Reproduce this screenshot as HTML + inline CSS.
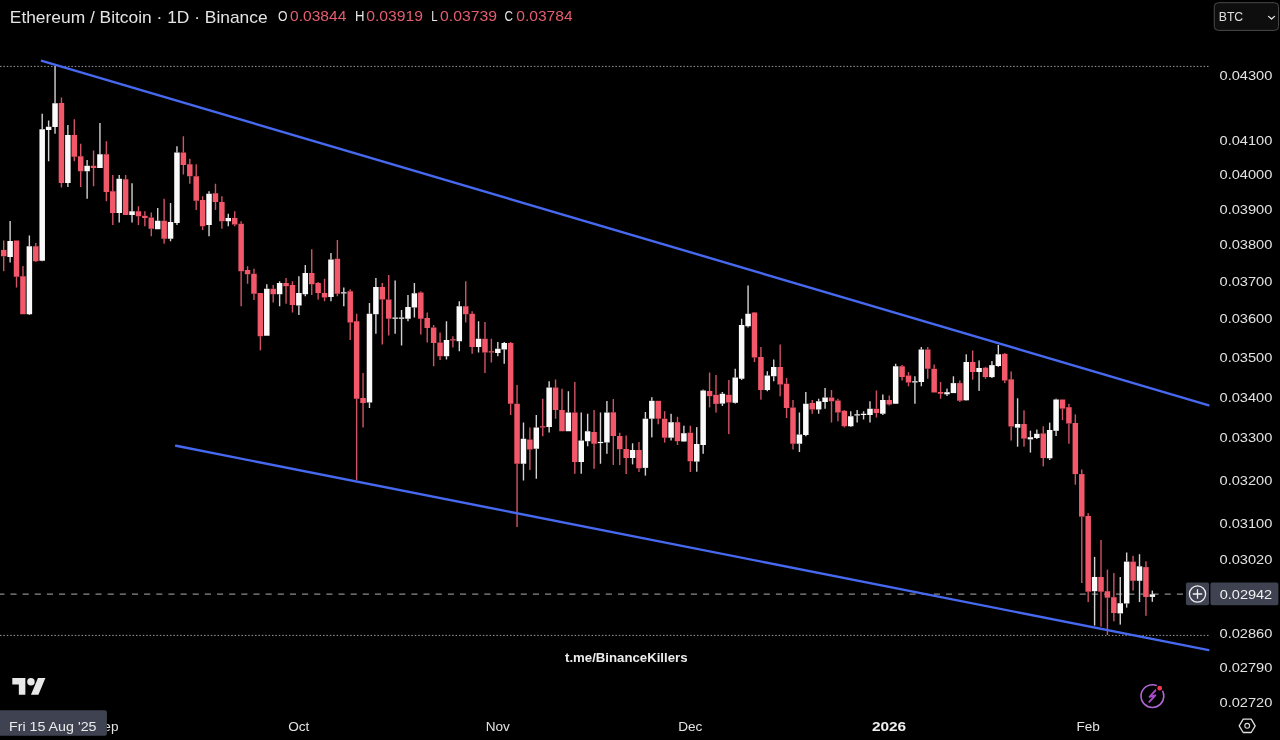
<!DOCTYPE html>
<html><head><meta charset="utf-8"><title>ETH/BTC</title>
<style>
html,body{margin:0;padding:0;background:#000;}
body{width:1280px;height:740px;overflow:hidden;position:relative;font-family:'Liberation Sans', Arial, sans-serif;}
svg{position:absolute;left:0;top:0;display:block;will-change:transform;}
svg text{font-family:'Liberation Sans', Arial, sans-serif;}
</style></head><body>
<svg width="1280" height="740" viewBox="0 0 1280 740">
<rect width="1280" height="740" fill="#000"/>
<defs><clipPath id="pane"><rect x="0" y="0" width="1209.5" height="705"/></clipPath></defs>
<g clip-path="url(#pane)">
<line x1="0" y1="66.4" x2="1209.5" y2="66.4" stroke="#9a9a9a" stroke-width="1" stroke-dasharray="1.5 1.9"/>
<line x1="0" y1="635.4" x2="1209.5" y2="635.4" stroke="#9a9a9a" stroke-width="1" stroke-dasharray="1.5 1.9"/>
<line x1="0" y1="594.1" x2="1185" y2="594.1" stroke="#8a8a8a" stroke-width="1.1" stroke-dasharray="6.1 6.05" stroke-dashoffset="1.7"/>
<rect x="3.00" y="240.50" width="1.4" height="9.50" fill="#d05366"/>
<rect x="3.00" y="256.25" width="1.4" height="15.00" fill="#d05366"/>
<rect x="0.95" y="250.00" width="5.5" height="6.25" fill="#f2576a"/>
<rect x="9.42" y="221.00" width="1.4" height="20.00" fill="#d2d2d2"/>
<rect x="9.42" y="257.00" width="1.4" height="5.50" fill="#d2d2d2"/>
<rect x="7.37" y="241.00" width="5.5" height="16.00" fill="#fafafa"/>
<rect x="15.83" y="276.75" width="1.4" height="10.75" fill="#d05366"/>
<rect x="13.78" y="240.50" width="5.5" height="36.25" fill="#f2576a"/>
<rect x="22.25" y="266.00" width="1.4" height="10.25" fill="#d05366"/>
<rect x="20.20" y="276.25" width="5.5" height="38.00" fill="#f2576a"/>
<rect x="28.67" y="235.50" width="1.4" height="10.75" fill="#d2d2d2"/>
<rect x="28.67" y="314.25" width="1.4" height="0.75" fill="#d2d2d2"/>
<rect x="26.62" y="246.25" width="5.5" height="68.00" fill="#fafafa"/>
<rect x="35.09" y="243.00" width="1.4" height="3.25" fill="#d05366"/>
<rect x="35.09" y="261.25" width="1.4" height="0.75" fill="#d05366"/>
<rect x="33.04" y="246.25" width="5.5" height="15.00" fill="#f2576a"/>
<rect x="41.50" y="113.75" width="1.4" height="15.50" fill="#d2d2d2"/>
<rect x="41.50" y="260.75" width="1.4" height="0.50" fill="#d2d2d2"/>
<rect x="39.45" y="129.25" width="5.5" height="131.50" fill="#fafafa"/>
<rect x="47.92" y="120.50" width="1.4" height="6.25" fill="#d2d2d2"/>
<rect x="47.92" y="130.00" width="1.4" height="31.25" fill="#d2d2d2"/>
<rect x="45.87" y="126.75" width="5.5" height="3.25" fill="#fafafa"/>
<rect x="54.34" y="66.25" width="1.4" height="37.00" fill="#d2d2d2"/>
<rect x="54.34" y="127.00" width="1.4" height="6.75" fill="#d2d2d2"/>
<rect x="52.29" y="103.25" width="5.5" height="23.75" fill="#fafafa"/>
<rect x="60.75" y="97.50" width="1.4" height="5.50" fill="#d05366"/>
<rect x="60.75" y="183.00" width="1.4" height="4.50" fill="#d05366"/>
<rect x="58.70" y="103.00" width="5.5" height="80.00" fill="#f2576a"/>
<rect x="67.17" y="125.00" width="1.4" height="10.00" fill="#d2d2d2"/>
<rect x="67.17" y="183.00" width="1.4" height="4.00" fill="#d2d2d2"/>
<rect x="65.12" y="135.00" width="5.5" height="48.00" fill="#fafafa"/>
<rect x="73.59" y="119.25" width="1.4" height="15.75" fill="#d05366"/>
<rect x="73.59" y="156.75" width="1.4" height="4.50" fill="#d05366"/>
<rect x="71.54" y="135.00" width="5.5" height="21.75" fill="#f2576a"/>
<rect x="80.00" y="143.75" width="1.4" height="12.50" fill="#d05366"/>
<rect x="80.00" y="171.25" width="1.4" height="15.75" fill="#d05366"/>
<rect x="77.95" y="156.25" width="5.5" height="15.00" fill="#f2576a"/>
<rect x="86.42" y="160.00" width="1.4" height="5.75" fill="#d2d2d2"/>
<rect x="86.42" y="171.25" width="1.4" height="27.50" fill="#d2d2d2"/>
<rect x="84.37" y="165.75" width="5.5" height="5.50" fill="#fafafa"/>
<rect x="92.84" y="150.50" width="1.4" height="15.25" fill="#d05366"/>
<rect x="92.84" y="168.00" width="1.4" height="18.25" fill="#d05366"/>
<rect x="90.79" y="165.75" width="5.5" height="2.25" fill="#f2576a"/>
<rect x="99.25" y="123.00" width="1.4" height="31.25" fill="#d2d2d2"/>
<rect x="97.20" y="154.25" width="5.5" height="13.75" fill="#fafafa"/>
<rect x="105.67" y="141.25" width="1.4" height="13.00" fill="#d05366"/>
<rect x="105.67" y="192.00" width="1.4" height="9.25" fill="#d05366"/>
<rect x="103.62" y="154.25" width="5.5" height="37.75" fill="#f2576a"/>
<rect x="112.09" y="175.00" width="1.4" height="16.25" fill="#d05366"/>
<rect x="112.09" y="213.00" width="1.4" height="12.00" fill="#d05366"/>
<rect x="110.04" y="191.25" width="5.5" height="21.75" fill="#f2576a"/>
<rect x="118.51" y="175.00" width="1.4" height="3.75" fill="#d2d2d2"/>
<rect x="118.51" y="213.00" width="1.4" height="9.50" fill="#d2d2d2"/>
<rect x="116.46" y="178.75" width="5.5" height="34.25" fill="#fafafa"/>
<rect x="124.92" y="175.00" width="1.4" height="4.25" fill="#d05366"/>
<rect x="122.87" y="179.25" width="5.5" height="35.75" fill="#f2576a"/>
<rect x="131.34" y="183.25" width="1.4" height="28.00" fill="#d2d2d2"/>
<rect x="131.34" y="215.00" width="1.4" height="7.50" fill="#d2d2d2"/>
<rect x="129.29" y="211.25" width="5.5" height="3.75" fill="#fafafa"/>
<rect x="137.76" y="206.25" width="1.4" height="5.00" fill="#d05366"/>
<rect x="137.76" y="216.25" width="1.4" height="8.75" fill="#d05366"/>
<rect x="135.71" y="211.25" width="5.5" height="5.00" fill="#f2576a"/>
<rect x="144.17" y="211.25" width="1.4" height="4.50" fill="#d05366"/>
<rect x="144.17" y="218.00" width="1.4" height="8.25" fill="#d05366"/>
<rect x="142.12" y="215.75" width="5.5" height="2.25" fill="#f2576a"/>
<rect x="150.59" y="212.50" width="1.4" height="5.00" fill="#d05366"/>
<rect x="150.59" y="228.75" width="1.4" height="7.50" fill="#d05366"/>
<rect x="148.54" y="217.50" width="5.5" height="11.25" fill="#f2576a"/>
<rect x="157.01" y="208.00" width="1.4" height="12.75" fill="#d2d2d2"/>
<rect x="154.96" y="220.75" width="5.5" height="8.50" fill="#fafafa"/>
<rect x="163.42" y="198.75" width="1.4" height="22.00" fill="#d05366"/>
<rect x="163.42" y="238.75" width="1.4" height="5.00" fill="#d05366"/>
<rect x="161.37" y="220.75" width="5.5" height="18.00" fill="#f2576a"/>
<rect x="169.84" y="203.00" width="1.4" height="19.00" fill="#d2d2d2"/>
<rect x="169.84" y="238.75" width="1.4" height="2.50" fill="#d2d2d2"/>
<rect x="167.79" y="222.00" width="5.5" height="16.75" fill="#fafafa"/>
<rect x="176.26" y="146.25" width="1.4" height="6.25" fill="#d2d2d2"/>
<rect x="176.26" y="223.00" width="1.4" height="2.00" fill="#d2d2d2"/>
<rect x="174.21" y="152.50" width="5.5" height="70.50" fill="#fafafa"/>
<rect x="182.68" y="136.25" width="1.4" height="16.25" fill="#d05366"/>
<rect x="182.68" y="165.00" width="1.4" height="9.50" fill="#d05366"/>
<rect x="180.63" y="152.50" width="5.5" height="12.50" fill="#f2576a"/>
<rect x="189.09" y="158.75" width="1.4" height="5.50" fill="#d05366"/>
<rect x="189.09" y="176.25" width="1.4" height="7.50" fill="#d05366"/>
<rect x="187.04" y="164.25" width="5.5" height="12.00" fill="#f2576a"/>
<rect x="195.51" y="164.25" width="1.4" height="12.00" fill="#d05366"/>
<rect x="195.51" y="200.75" width="1.4" height="9.25" fill="#d05366"/>
<rect x="193.46" y="176.25" width="5.5" height="24.50" fill="#f2576a"/>
<rect x="201.93" y="196.25" width="1.4" height="3.75" fill="#d05366"/>
<rect x="201.93" y="226.25" width="1.4" height="3.75" fill="#d05366"/>
<rect x="199.88" y="200.00" width="5.5" height="26.25" fill="#f2576a"/>
<rect x="208.34" y="191.25" width="1.4" height="2.50" fill="#d2d2d2"/>
<rect x="208.34" y="225.00" width="1.4" height="11.25" fill="#d2d2d2"/>
<rect x="206.29" y="193.75" width="5.5" height="31.25" fill="#fafafa"/>
<rect x="214.76" y="183.75" width="1.4" height="9.50" fill="#d05366"/>
<rect x="214.76" y="202.00" width="1.4" height="8.00" fill="#d05366"/>
<rect x="212.71" y="193.25" width="5.5" height="8.75" fill="#f2576a"/>
<rect x="221.18" y="196.25" width="1.4" height="5.75" fill="#d05366"/>
<rect x="221.18" y="221.25" width="1.4" height="7.50" fill="#d05366"/>
<rect x="219.13" y="202.00" width="5.5" height="19.25" fill="#f2576a"/>
<rect x="227.59" y="213.75" width="1.4" height="4.25" fill="#d2d2d2"/>
<rect x="227.59" y="221.25" width="1.4" height="5.00" fill="#d2d2d2"/>
<rect x="225.54" y="218.00" width="5.5" height="3.25" fill="#fafafa"/>
<rect x="234.01" y="211.25" width="1.4" height="6.75" fill="#d05366"/>
<rect x="234.01" y="224.50" width="1.4" height="1.75" fill="#d05366"/>
<rect x="231.96" y="218.00" width="5.5" height="6.50" fill="#f2576a"/>
<rect x="240.43" y="221.25" width="1.4" height="2.50" fill="#d05366"/>
<rect x="240.43" y="271.25" width="1.4" height="35.00" fill="#d05366"/>
<rect x="238.38" y="223.75" width="5.5" height="47.50" fill="#f2576a"/>
<rect x="246.85" y="266.25" width="1.4" height="3.75" fill="#d05366"/>
<rect x="246.85" y="274.25" width="1.4" height="9.50" fill="#d05366"/>
<rect x="244.80" y="270.00" width="5.5" height="4.25" fill="#f2576a"/>
<rect x="253.26" y="268.75" width="1.4" height="5.00" fill="#d05366"/>
<rect x="253.26" y="293.75" width="1.4" height="6.25" fill="#d05366"/>
<rect x="251.21" y="273.75" width="5.5" height="20.00" fill="#f2576a"/>
<rect x="259.68" y="336.25" width="1.4" height="14.15" fill="#d05366"/>
<rect x="257.63" y="293.00" width="5.5" height="43.25" fill="#f2576a"/>
<rect x="266.10" y="284.25" width="1.4" height="4.50" fill="#d2d2d2"/>
<rect x="264.05" y="288.75" width="5.5" height="47.00" fill="#fafafa"/>
<rect x="272.51" y="285.00" width="1.4" height="3.75" fill="#d05366"/>
<rect x="272.51" y="294.25" width="1.4" height="8.25" fill="#d05366"/>
<rect x="270.46" y="288.75" width="5.5" height="5.50" fill="#f2576a"/>
<rect x="278.93" y="281.25" width="1.4" height="1.75" fill="#d2d2d2"/>
<rect x="278.93" y="294.25" width="1.4" height="12.00" fill="#d2d2d2"/>
<rect x="276.88" y="283.00" width="5.5" height="11.25" fill="#fafafa"/>
<rect x="285.35" y="278.00" width="1.4" height="5.00" fill="#d05366"/>
<rect x="285.35" y="286.25" width="1.4" height="17.50" fill="#d05366"/>
<rect x="283.30" y="283.00" width="5.5" height="3.25" fill="#f2576a"/>
<rect x="291.76" y="281.25" width="1.4" height="3.75" fill="#d05366"/>
<rect x="291.76" y="305.00" width="1.4" height="7.50" fill="#d05366"/>
<rect x="289.71" y="285.00" width="5.5" height="20.00" fill="#f2576a"/>
<rect x="298.18" y="276.25" width="1.4" height="16.75" fill="#d2d2d2"/>
<rect x="298.18" y="305.50" width="1.4" height="9.50" fill="#d2d2d2"/>
<rect x="296.13" y="293.00" width="5.5" height="12.50" fill="#fafafa"/>
<rect x="304.60" y="265.00" width="1.4" height="8.00" fill="#d2d2d2"/>
<rect x="304.60" y="294.25" width="1.4" height="2.00" fill="#d2d2d2"/>
<rect x="302.55" y="273.00" width="5.5" height="21.25" fill="#fafafa"/>
<rect x="311.02" y="249.25" width="1.4" height="23.75" fill="#d05366"/>
<rect x="311.02" y="284.25" width="1.4" height="10.75" fill="#d05366"/>
<rect x="308.97" y="273.00" width="5.5" height="11.25" fill="#f2576a"/>
<rect x="317.43" y="282.00" width="1.4" height="1.00" fill="#d05366"/>
<rect x="317.43" y="293.00" width="1.4" height="6.60" fill="#d05366"/>
<rect x="315.38" y="283.00" width="5.5" height="10.00" fill="#f2576a"/>
<rect x="323.85" y="278.75" width="1.4" height="14.25" fill="#d05366"/>
<rect x="323.85" y="297.50" width="1.4" height="3.75" fill="#d05366"/>
<rect x="321.80" y="293.00" width="5.5" height="4.50" fill="#f2576a"/>
<rect x="330.27" y="253.00" width="1.4" height="6.50" fill="#d2d2d2"/>
<rect x="330.27" y="297.00" width="1.4" height="4.25" fill="#d2d2d2"/>
<rect x="328.22" y="259.50" width="5.5" height="37.50" fill="#fafafa"/>
<rect x="336.68" y="240.00" width="1.4" height="18.75" fill="#d05366"/>
<rect x="336.68" y="293.75" width="1.4" height="2.50" fill="#d05366"/>
<rect x="334.63" y="258.75" width="5.5" height="35.00" fill="#f2576a"/>
<rect x="343.10" y="287.50" width="1.4" height="4.77" fill="#d2d2d2"/>
<rect x="343.10" y="293.48" width="1.4" height="12.77" fill="#d2d2d2"/>
<rect x="341.05" y="292.27" width="5.5" height="1.20" fill="#fafafa"/>
<rect x="349.52" y="289.25" width="1.4" height="2.00" fill="#d05366"/>
<rect x="349.52" y="322.50" width="1.4" height="17.50" fill="#d05366"/>
<rect x="347.47" y="291.25" width="5.5" height="31.25" fill="#f2576a"/>
<rect x="355.94" y="313.75" width="1.4" height="7.50" fill="#d05366"/>
<rect x="355.94" y="398.75" width="1.4" height="81.25" fill="#d05366"/>
<rect x="353.88" y="321.25" width="5.5" height="77.50" fill="#f2576a"/>
<rect x="362.35" y="373.00" width="1.4" height="25.00" fill="#d05366"/>
<rect x="362.35" y="403.00" width="1.4" height="24.50" fill="#d05366"/>
<rect x="360.30" y="398.00" width="5.5" height="5.00" fill="#f2576a"/>
<rect x="368.77" y="303.00" width="1.4" height="10.75" fill="#d2d2d2"/>
<rect x="368.77" y="402.50" width="1.4" height="5.50" fill="#d2d2d2"/>
<rect x="366.72" y="313.75" width="5.5" height="88.75" fill="#fafafa"/>
<rect x="375.19" y="278.00" width="1.4" height="9.00" fill="#d2d2d2"/>
<rect x="375.19" y="314.25" width="1.4" height="19.50" fill="#d2d2d2"/>
<rect x="373.14" y="287.00" width="5.5" height="27.25" fill="#fafafa"/>
<rect x="381.60" y="283.00" width="1.4" height="4.00" fill="#d05366"/>
<rect x="381.60" y="299.50" width="1.4" height="45.00" fill="#d05366"/>
<rect x="379.55" y="287.00" width="5.5" height="12.50" fill="#f2576a"/>
<rect x="388.02" y="275.00" width="1.4" height="24.50" fill="#d05366"/>
<rect x="388.02" y="318.75" width="1.4" height="16.75" fill="#d05366"/>
<rect x="385.97" y="299.50" width="5.5" height="19.25" fill="#f2576a"/>
<rect x="394.44" y="280.50" width="1.4" height="37.00" fill="#d2d2d2"/>
<rect x="394.44" y="318.75" width="1.4" height="15.00" fill="#d2d2d2"/>
<rect x="392.39" y="317.50" width="5.5" height="1.25" fill="#fafafa"/>
<rect x="400.85" y="310.00" width="1.4" height="7.50" fill="#d2d2d2"/>
<rect x="400.85" y="318.75" width="1.4" height="26.75" fill="#d2d2d2"/>
<rect x="398.80" y="317.50" width="5.5" height="1.25" fill="#fafafa"/>
<rect x="407.27" y="295.00" width="1.4" height="12.00" fill="#d2d2d2"/>
<rect x="407.27" y="318.75" width="1.4" height="2.50" fill="#d2d2d2"/>
<rect x="405.22" y="307.00" width="5.5" height="11.75" fill="#fafafa"/>
<rect x="413.69" y="283.00" width="1.4" height="10.25" fill="#d2d2d2"/>
<rect x="413.69" y="307.50" width="1.4" height="10.00" fill="#d2d2d2"/>
<rect x="411.64" y="293.25" width="5.5" height="14.25" fill="#fafafa"/>
<rect x="420.10" y="291.25" width="1.4" height="1.25" fill="#d05366"/>
<rect x="420.10" y="318.75" width="1.4" height="15.75" fill="#d05366"/>
<rect x="418.05" y="292.50" width="5.5" height="26.25" fill="#f2576a"/>
<rect x="426.52" y="312.50" width="1.4" height="5.50" fill="#d05366"/>
<rect x="426.52" y="328.00" width="1.4" height="14.50" fill="#d05366"/>
<rect x="424.47" y="318.00" width="5.5" height="10.00" fill="#f2576a"/>
<rect x="432.94" y="325.00" width="1.4" height="2.50" fill="#d05366"/>
<rect x="432.94" y="343.00" width="1.4" height="23.25" fill="#d05366"/>
<rect x="430.89" y="327.50" width="5.5" height="15.50" fill="#f2576a"/>
<rect x="439.36" y="332.50" width="1.4" height="10.00" fill="#d05366"/>
<rect x="439.36" y="356.25" width="1.4" height="3.75" fill="#d05366"/>
<rect x="437.31" y="342.50" width="5.5" height="13.75" fill="#f2576a"/>
<rect x="445.77" y="321.25" width="1.4" height="18.75" fill="#d2d2d2"/>
<rect x="445.77" y="356.25" width="1.4" height="3.25" fill="#d2d2d2"/>
<rect x="443.72" y="340.00" width="5.5" height="16.25" fill="#fafafa"/>
<rect x="452.19" y="336.25" width="1.4" height="3.00" fill="#d05366"/>
<rect x="452.19" y="340.50" width="1.4" height="7.00" fill="#d05366"/>
<rect x="450.14" y="339.25" width="5.5" height="1.25" fill="#f2576a"/>
<rect x="458.61" y="301.25" width="1.4" height="5.00" fill="#d2d2d2"/>
<rect x="458.61" y="341.25" width="1.4" height="10.00" fill="#d2d2d2"/>
<rect x="456.56" y="306.25" width="5.5" height="35.00" fill="#fafafa"/>
<rect x="465.02" y="281.25" width="1.4" height="25.00" fill="#d05366"/>
<rect x="465.02" y="314.25" width="1.4" height="8.25" fill="#d05366"/>
<rect x="462.97" y="306.25" width="5.5" height="8.00" fill="#f2576a"/>
<rect x="471.44" y="311.25" width="1.4" height="2.50" fill="#d05366"/>
<rect x="471.44" y="347.00" width="1.4" height="6.75" fill="#d05366"/>
<rect x="469.39" y="313.75" width="5.5" height="33.25" fill="#f2576a"/>
<rect x="477.86" y="321.25" width="1.4" height="17.50" fill="#d2d2d2"/>
<rect x="477.86" y="347.00" width="1.4" height="5.50" fill="#d2d2d2"/>
<rect x="475.81" y="338.75" width="5.5" height="8.25" fill="#fafafa"/>
<rect x="484.27" y="322.00" width="1.4" height="16.75" fill="#d05366"/>
<rect x="484.27" y="352.50" width="1.4" height="20.50" fill="#d05366"/>
<rect x="482.22" y="338.75" width="5.5" height="13.75" fill="#f2576a"/>
<rect x="490.69" y="338.75" width="1.4" height="12.50" fill="#d05366"/>
<rect x="490.69" y="352.50" width="1.4" height="10.00" fill="#d05366"/>
<rect x="488.64" y="351.25" width="5.5" height="1.25" fill="#f2576a"/>
<rect x="497.11" y="342.00" width="1.4" height="6.75" fill="#d2d2d2"/>
<rect x="497.11" y="353.00" width="1.4" height="3.25" fill="#d2d2d2"/>
<rect x="495.06" y="348.75" width="5.5" height="4.25" fill="#fafafa"/>
<rect x="503.53" y="342.00" width="1.4" height="1.00" fill="#d2d2d2"/>
<rect x="503.53" y="349.50" width="1.4" height="14.25" fill="#d2d2d2"/>
<rect x="501.48" y="343.00" width="5.5" height="6.50" fill="#fafafa"/>
<rect x="509.94" y="342.00" width="1.4" height="1.00" fill="#d05366"/>
<rect x="509.94" y="403.75" width="1.4" height="11.25" fill="#d05366"/>
<rect x="507.89" y="343.00" width="5.5" height="60.75" fill="#f2576a"/>
<rect x="516.36" y="385.00" width="1.4" height="18.75" fill="#d05366"/>
<rect x="516.36" y="463.75" width="1.4" height="63.25" fill="#d05366"/>
<rect x="514.31" y="403.75" width="5.5" height="60.00" fill="#f2576a"/>
<rect x="522.78" y="422.50" width="1.4" height="16.25" fill="#d2d2d2"/>
<rect x="522.78" y="463.75" width="1.4" height="16.75" fill="#d2d2d2"/>
<rect x="520.73" y="438.75" width="5.5" height="25.00" fill="#fafafa"/>
<rect x="529.19" y="427.50" width="1.4" height="12.00" fill="#d05366"/>
<rect x="529.19" y="449.50" width="1.4" height="20.50" fill="#d05366"/>
<rect x="527.14" y="439.50" width="5.5" height="10.00" fill="#f2576a"/>
<rect x="535.61" y="415.00" width="1.4" height="12.50" fill="#d2d2d2"/>
<rect x="535.61" y="448.75" width="1.4" height="30.00" fill="#d2d2d2"/>
<rect x="533.56" y="427.50" width="5.5" height="21.25" fill="#fafafa"/>
<rect x="542.03" y="398.75" width="1.4" height="27.50" fill="#d05366"/>
<rect x="542.03" y="427.50" width="1.4" height="8.75" fill="#d05366"/>
<rect x="539.98" y="426.25" width="5.5" height="1.25" fill="#f2576a"/>
<rect x="548.44" y="381.25" width="1.4" height="6.25" fill="#d2d2d2"/>
<rect x="548.44" y="427.00" width="1.4" height="5.50" fill="#d2d2d2"/>
<rect x="546.39" y="387.50" width="5.5" height="39.50" fill="#fafafa"/>
<rect x="554.86" y="379.50" width="1.4" height="8.00" fill="#d05366"/>
<rect x="554.86" y="410.00" width="1.4" height="8.75" fill="#d05366"/>
<rect x="552.81" y="387.50" width="5.5" height="22.50" fill="#f2576a"/>
<rect x="561.28" y="388.75" width="1.4" height="21.25" fill="#d05366"/>
<rect x="559.23" y="410.00" width="5.5" height="21.25" fill="#f2576a"/>
<rect x="567.70" y="391.25" width="1.4" height="21.25" fill="#d2d2d2"/>
<rect x="565.65" y="412.50" width="5.5" height="18.75" fill="#fafafa"/>
<rect x="574.11" y="382.00" width="1.4" height="30.50" fill="#d05366"/>
<rect x="574.11" y="462.00" width="1.4" height="11.75" fill="#d05366"/>
<rect x="572.06" y="412.50" width="5.5" height="49.50" fill="#f2576a"/>
<rect x="580.53" y="412.50" width="1.4" height="28.00" fill="#d2d2d2"/>
<rect x="580.53" y="462.00" width="1.4" height="11.75" fill="#d2d2d2"/>
<rect x="578.48" y="440.50" width="5.5" height="21.50" fill="#fafafa"/>
<rect x="586.95" y="413.75" width="1.4" height="17.50" fill="#d2d2d2"/>
<rect x="586.95" y="441.25" width="1.4" height="5.00" fill="#d2d2d2"/>
<rect x="584.90" y="431.25" width="5.5" height="10.00" fill="#fafafa"/>
<rect x="593.36" y="410.00" width="1.4" height="22.00" fill="#d05366"/>
<rect x="593.36" y="443.75" width="1.4" height="25.00" fill="#d05366"/>
<rect x="591.31" y="432.00" width="5.5" height="11.75" fill="#f2576a"/>
<rect x="599.78" y="412.50" width="1.4" height="29.40" fill="#d2d2d2"/>
<rect x="599.78" y="443.10" width="1.4" height="20.65" fill="#d2d2d2"/>
<rect x="597.73" y="441.90" width="5.5" height="1.20" fill="#fafafa"/>
<rect x="606.20" y="401.00" width="1.4" height="11.50" fill="#d2d2d2"/>
<rect x="606.20" y="442.50" width="1.4" height="11.30" fill="#d2d2d2"/>
<rect x="604.15" y="412.50" width="5.5" height="30.00" fill="#fafafa"/>
<rect x="612.62" y="399.00" width="1.4" height="13.30" fill="#d05366"/>
<rect x="612.62" y="436.00" width="1.4" height="29.00" fill="#d05366"/>
<rect x="610.57" y="412.30" width="5.5" height="23.70" fill="#f2576a"/>
<rect x="619.03" y="432.70" width="1.4" height="3.30" fill="#d05366"/>
<rect x="619.03" y="449.20" width="1.4" height="15.80" fill="#d05366"/>
<rect x="616.98" y="436.00" width="5.5" height="13.20" fill="#f2576a"/>
<rect x="625.45" y="435.50" width="1.4" height="13.50" fill="#d05366"/>
<rect x="625.45" y="458.00" width="1.4" height="16.00" fill="#d05366"/>
<rect x="623.40" y="449.00" width="5.5" height="9.00" fill="#f2576a"/>
<rect x="631.87" y="443.30" width="1.4" height="6.70" fill="#d2d2d2"/>
<rect x="631.87" y="458.00" width="1.4" height="6.40" fill="#d2d2d2"/>
<rect x="629.82" y="450.00" width="5.5" height="8.00" fill="#fafafa"/>
<rect x="638.28" y="442.00" width="1.4" height="8.00" fill="#d05366"/>
<rect x="638.28" y="468.30" width="1.4" height="3.70" fill="#d05366"/>
<rect x="636.23" y="450.00" width="5.5" height="18.30" fill="#f2576a"/>
<rect x="644.70" y="412.00" width="1.4" height="6.70" fill="#d2d2d2"/>
<rect x="644.70" y="467.90" width="1.4" height="7.70" fill="#d2d2d2"/>
<rect x="642.65" y="418.70" width="5.5" height="49.20" fill="#fafafa"/>
<rect x="651.12" y="397.20" width="1.4" height="3.60" fill="#d2d2d2"/>
<rect x="651.12" y="418.70" width="1.4" height="18.70" fill="#d2d2d2"/>
<rect x="649.07" y="400.80" width="5.5" height="17.90" fill="#fafafa"/>
<rect x="657.53" y="418.70" width="1.4" height="5.60" fill="#d05366"/>
<rect x="655.48" y="400.80" width="5.5" height="17.90" fill="#f2576a"/>
<rect x="663.95" y="411.20" width="1.4" height="7.50" fill="#d05366"/>
<rect x="663.95" y="437.70" width="1.4" height="4.90" fill="#d05366"/>
<rect x="661.90" y="418.70" width="5.5" height="19.00" fill="#f2576a"/>
<rect x="670.37" y="413.80" width="1.4" height="8.40" fill="#d2d2d2"/>
<rect x="670.37" y="437.70" width="1.4" height="2.80" fill="#d2d2d2"/>
<rect x="668.32" y="422.20" width="5.5" height="15.50" fill="#fafafa"/>
<rect x="676.78" y="416.80" width="1.4" height="5.40" fill="#d05366"/>
<rect x="676.78" y="441.20" width="1.4" height="3.80" fill="#d05366"/>
<rect x="674.74" y="422.20" width="5.5" height="19.00" fill="#f2576a"/>
<rect x="683.20" y="425.70" width="1.4" height="7.50" fill="#d2d2d2"/>
<rect x="683.20" y="441.50" width="1.4" height="0.40" fill="#d2d2d2"/>
<rect x="681.15" y="433.20" width="5.5" height="8.30" fill="#fafafa"/>
<rect x="689.62" y="425.70" width="1.4" height="7.00" fill="#d05366"/>
<rect x="689.62" y="461.30" width="1.4" height="10.70" fill="#d05366"/>
<rect x="687.57" y="432.70" width="5.5" height="28.60" fill="#f2576a"/>
<rect x="696.04" y="427.10" width="1.4" height="16.90" fill="#d2d2d2"/>
<rect x="696.04" y="461.60" width="1.4" height="10.10" fill="#d2d2d2"/>
<rect x="693.99" y="444.00" width="5.5" height="17.60" fill="#fafafa"/>
<rect x="702.45" y="389.60" width="1.4" height="0.90" fill="#d2d2d2"/>
<rect x="702.45" y="445.00" width="1.4" height="8.80" fill="#d2d2d2"/>
<rect x="700.40" y="390.50" width="5.5" height="54.50" fill="#fafafa"/>
<rect x="708.87" y="372.50" width="1.4" height="18.50" fill="#d05366"/>
<rect x="708.87" y="396.20" width="1.4" height="11.20" fill="#d05366"/>
<rect x="706.82" y="391.00" width="5.5" height="5.20" fill="#f2576a"/>
<rect x="715.29" y="375.00" width="1.4" height="19.80" fill="#d05366"/>
<rect x="715.29" y="403.90" width="1.4" height="8.70" fill="#d05366"/>
<rect x="713.24" y="394.80" width="5.5" height="9.10" fill="#f2576a"/>
<rect x="721.70" y="392.00" width="1.4" height="1.80" fill="#d2d2d2"/>
<rect x="721.70" y="403.60" width="1.4" height="2.40" fill="#d2d2d2"/>
<rect x="719.65" y="393.80" width="5.5" height="9.80" fill="#fafafa"/>
<rect x="728.12" y="380.00" width="1.4" height="14.80" fill="#d05366"/>
<rect x="728.12" y="402.50" width="1.4" height="31.60" fill="#d05366"/>
<rect x="726.07" y="394.80" width="5.5" height="7.70" fill="#f2576a"/>
<rect x="734.54" y="368.75" width="1.4" height="8.75" fill="#d2d2d2"/>
<rect x="734.54" y="402.80" width="1.4" height="0.80" fill="#d2d2d2"/>
<rect x="732.49" y="377.50" width="5.5" height="25.30" fill="#fafafa"/>
<rect x="740.95" y="318.75" width="1.4" height="6.25" fill="#d2d2d2"/>
<rect x="740.95" y="378.75" width="1.4" height="1.25" fill="#d2d2d2"/>
<rect x="738.90" y="325.00" width="5.5" height="53.75" fill="#fafafa"/>
<rect x="747.37" y="285.50" width="1.4" height="28.25" fill="#d2d2d2"/>
<rect x="747.37" y="326.25" width="1.4" height="1.25" fill="#d2d2d2"/>
<rect x="745.32" y="313.75" width="5.5" height="12.50" fill="#fafafa"/>
<rect x="753.79" y="312.00" width="1.4" height="0.50" fill="#d05366"/>
<rect x="753.79" y="357.50" width="1.4" height="4.50" fill="#d05366"/>
<rect x="751.74" y="312.50" width="5.5" height="45.00" fill="#f2576a"/>
<rect x="760.21" y="347.00" width="1.4" height="10.00" fill="#d05366"/>
<rect x="760.21" y="390.00" width="1.4" height="9.70" fill="#d05366"/>
<rect x="758.16" y="357.00" width="5.5" height="33.00" fill="#f2576a"/>
<rect x="766.62" y="371.25" width="1.4" height="4.25" fill="#d2d2d2"/>
<rect x="766.62" y="390.00" width="1.4" height="1.25" fill="#d2d2d2"/>
<rect x="764.57" y="375.50" width="5.5" height="14.50" fill="#fafafa"/>
<rect x="773.04" y="359.50" width="1.4" height="7.50" fill="#d2d2d2"/>
<rect x="773.04" y="376.25" width="1.4" height="5.00" fill="#d2d2d2"/>
<rect x="770.99" y="367.00" width="5.5" height="9.25" fill="#fafafa"/>
<rect x="779.46" y="344.50" width="1.4" height="22.50" fill="#d05366"/>
<rect x="779.46" y="384.50" width="1.4" height="11.75" fill="#d05366"/>
<rect x="777.41" y="367.00" width="5.5" height="17.50" fill="#f2576a"/>
<rect x="785.87" y="378.00" width="1.4" height="5.75" fill="#d05366"/>
<rect x="785.87" y="408.00" width="1.4" height="10.00" fill="#d05366"/>
<rect x="783.82" y="383.75" width="5.5" height="24.25" fill="#f2576a"/>
<rect x="792.29" y="400.00" width="1.4" height="7.50" fill="#d05366"/>
<rect x="792.29" y="443.75" width="1.4" height="5.75" fill="#d05366"/>
<rect x="790.24" y="407.50" width="5.5" height="36.25" fill="#f2576a"/>
<rect x="798.71" y="412.50" width="1.4" height="22.00" fill="#d2d2d2"/>
<rect x="798.71" y="443.75" width="1.4" height="8.25" fill="#d2d2d2"/>
<rect x="796.66" y="434.50" width="5.5" height="9.25" fill="#fafafa"/>
<rect x="805.12" y="392.00" width="1.4" height="11.75" fill="#d2d2d2"/>
<rect x="805.12" y="435.00" width="1.4" height="1.25" fill="#d2d2d2"/>
<rect x="803.08" y="403.75" width="5.5" height="31.25" fill="#fafafa"/>
<rect x="811.54" y="400.00" width="1.4" height="3.00" fill="#d05366"/>
<rect x="811.54" y="409.50" width="1.4" height="4.25" fill="#d05366"/>
<rect x="809.49" y="403.00" width="5.5" height="6.50" fill="#f2576a"/>
<rect x="817.96" y="398.75" width="1.4" height="2.50" fill="#d2d2d2"/>
<rect x="817.96" y="409.50" width="1.4" height="4.25" fill="#d2d2d2"/>
<rect x="815.91" y="401.25" width="5.5" height="8.25" fill="#fafafa"/>
<rect x="824.38" y="388.00" width="1.4" height="9.50" fill="#d2d2d2"/>
<rect x="824.38" y="402.00" width="1.4" height="6.75" fill="#d2d2d2"/>
<rect x="822.33" y="397.50" width="5.5" height="4.50" fill="#fafafa"/>
<rect x="830.79" y="390.00" width="1.4" height="7.50" fill="#d05366"/>
<rect x="830.79" y="401.25" width="1.4" height="21.25" fill="#d05366"/>
<rect x="828.74" y="397.50" width="5.5" height="3.75" fill="#f2576a"/>
<rect x="837.21" y="398.75" width="1.4" height="1.75" fill="#d05366"/>
<rect x="837.21" y="412.50" width="1.4" height="8.75" fill="#d05366"/>
<rect x="835.16" y="400.50" width="5.5" height="12.00" fill="#f2576a"/>
<rect x="843.63" y="410.00" width="1.4" height="0.75" fill="#d05366"/>
<rect x="843.63" y="426.25" width="1.4" height="1.25" fill="#d05366"/>
<rect x="841.58" y="410.75" width="5.5" height="15.50" fill="#f2576a"/>
<rect x="850.04" y="411.25" width="1.4" height="5.00" fill="#d2d2d2"/>
<rect x="850.04" y="426.25" width="1.4" height="0.75" fill="#d2d2d2"/>
<rect x="847.99" y="416.25" width="5.5" height="10.00" fill="#fafafa"/>
<rect x="856.46" y="410.00" width="1.4" height="4.25" fill="#d2d2d2"/>
<rect x="856.46" y="415.50" width="1.4" height="7.00" fill="#d2d2d2"/>
<rect x="854.41" y="414.25" width="5.5" height="1.25" fill="#fafafa"/>
<rect x="862.88" y="411.25" width="1.4" height="2.50" fill="#d2d2d2"/>
<rect x="862.88" y="415.00" width="1.4" height="4.50" fill="#d2d2d2"/>
<rect x="860.83" y="413.75" width="5.5" height="1.25" fill="#fafafa"/>
<rect x="869.29" y="401.25" width="1.4" height="7.50" fill="#d2d2d2"/>
<rect x="869.29" y="415.00" width="1.4" height="7.50" fill="#d2d2d2"/>
<rect x="867.25" y="408.75" width="5.5" height="6.25" fill="#fafafa"/>
<rect x="875.71" y="390.50" width="1.4" height="18.25" fill="#d05366"/>
<rect x="875.71" y="413.00" width="1.4" height="4.50" fill="#d05366"/>
<rect x="873.66" y="408.75" width="5.5" height="4.25" fill="#f2576a"/>
<rect x="882.13" y="394.50" width="1.4" height="5.50" fill="#d2d2d2"/>
<rect x="882.13" y="413.75" width="1.4" height="1.25" fill="#d2d2d2"/>
<rect x="880.08" y="400.00" width="5.5" height="13.75" fill="#fafafa"/>
<rect x="888.55" y="395.50" width="1.4" height="4.50" fill="#d05366"/>
<rect x="888.55" y="404.50" width="1.4" height="1.00" fill="#d05366"/>
<rect x="886.50" y="400.00" width="5.5" height="4.50" fill="#f2576a"/>
<rect x="894.96" y="363.75" width="1.4" height="2.50" fill="#d2d2d2"/>
<rect x="894.96" y="403.75" width="1.4" height="0.25" fill="#d2d2d2"/>
<rect x="892.91" y="366.25" width="5.5" height="37.50" fill="#fafafa"/>
<rect x="901.38" y="365.00" width="1.4" height="1.25" fill="#d05366"/>
<rect x="901.38" y="377.00" width="1.4" height="3.50" fill="#d05366"/>
<rect x="899.33" y="366.25" width="5.5" height="10.75" fill="#f2576a"/>
<rect x="907.80" y="372.00" width="1.4" height="3.50" fill="#d05366"/>
<rect x="907.80" y="382.50" width="1.4" height="3.75" fill="#d05366"/>
<rect x="905.75" y="375.50" width="5.5" height="7.00" fill="#f2576a"/>
<rect x="914.21" y="376.25" width="1.4" height="5.00" fill="#d2d2d2"/>
<rect x="914.21" y="382.50" width="1.4" height="21.25" fill="#d2d2d2"/>
<rect x="912.16" y="381.25" width="5.5" height="1.25" fill="#fafafa"/>
<rect x="920.63" y="347.00" width="1.4" height="2.50" fill="#d2d2d2"/>
<rect x="920.63" y="382.00" width="1.4" height="4.25" fill="#d2d2d2"/>
<rect x="918.58" y="349.50" width="5.5" height="32.50" fill="#fafafa"/>
<rect x="927.05" y="347.00" width="1.4" height="2.50" fill="#d05366"/>
<rect x="927.05" y="368.75" width="1.4" height="10.00" fill="#d05366"/>
<rect x="925.00" y="349.50" width="5.5" height="19.25" fill="#f2576a"/>
<rect x="933.46" y="364.50" width="1.4" height="4.25" fill="#d05366"/>
<rect x="931.41" y="368.75" width="5.5" height="23.75" fill="#f2576a"/>
<rect x="939.88" y="382.00" width="1.4" height="10.00" fill="#d05366"/>
<rect x="939.88" y="393.75" width="1.4" height="5.00" fill="#d05366"/>
<rect x="937.83" y="392.00" width="5.5" height="1.75" fill="#f2576a"/>
<rect x="946.30" y="388.60" width="1.4" height="3.60" fill="#d2d2d2"/>
<rect x="946.30" y="394.30" width="1.4" height="1.70" fill="#d2d2d2"/>
<rect x="944.25" y="392.20" width="5.5" height="2.10" fill="#fafafa"/>
<rect x="952.72" y="376.30" width="1.4" height="6.80" fill="#d2d2d2"/>
<rect x="950.67" y="383.10" width="5.5" height="10.00" fill="#fafafa"/>
<rect x="959.13" y="380.50" width="1.4" height="2.60" fill="#d05366"/>
<rect x="959.13" y="400.70" width="1.4" height="1.30" fill="#d05366"/>
<rect x="957.08" y="383.10" width="5.5" height="17.60" fill="#f2576a"/>
<rect x="965.55" y="354.30" width="1.4" height="7.70" fill="#d2d2d2"/>
<rect x="965.55" y="400.30" width="1.4" height="0.40" fill="#d2d2d2"/>
<rect x="963.50" y="362.00" width="5.5" height="38.30" fill="#fafafa"/>
<rect x="971.97" y="350.50" width="1.4" height="11.50" fill="#d05366"/>
<rect x="971.97" y="372.00" width="1.4" height="7.70" fill="#d05366"/>
<rect x="969.92" y="362.00" width="5.5" height="10.00" fill="#f2576a"/>
<rect x="978.38" y="360.40" width="1.4" height="7.60" fill="#d2d2d2"/>
<rect x="978.38" y="372.00" width="1.4" height="18.90" fill="#d2d2d2"/>
<rect x="976.33" y="368.00" width="5.5" height="4.00" fill="#fafafa"/>
<rect x="984.80" y="366.80" width="1.4" height="0.90" fill="#d05366"/>
<rect x="984.80" y="377.10" width="1.4" height="1.70" fill="#d05366"/>
<rect x="982.75" y="367.70" width="5.5" height="9.40" fill="#f2576a"/>
<rect x="991.22" y="361.10" width="1.4" height="4.00" fill="#d2d2d2"/>
<rect x="991.22" y="377.10" width="1.4" height="0.90" fill="#d2d2d2"/>
<rect x="989.17" y="365.10" width="5.5" height="12.00" fill="#fafafa"/>
<rect x="997.63" y="345.00" width="1.4" height="9.30" fill="#d2d2d2"/>
<rect x="997.63" y="366.00" width="1.4" height="0.80" fill="#d2d2d2"/>
<rect x="995.59" y="354.30" width="5.5" height="11.70" fill="#fafafa"/>
<rect x="1004.05" y="353.00" width="1.4" height="0.90" fill="#d05366"/>
<rect x="1004.05" y="380.50" width="1.4" height="2.60" fill="#d05366"/>
<rect x="1002.00" y="353.90" width="5.5" height="26.60" fill="#f2576a"/>
<rect x="1010.47" y="371.40" width="1.4" height="7.90" fill="#d05366"/>
<rect x="1010.47" y="426.50" width="1.4" height="14.00" fill="#d05366"/>
<rect x="1008.42" y="379.30" width="5.5" height="47.20" fill="#f2576a"/>
<rect x="1016.89" y="398.30" width="1.4" height="25.70" fill="#d2d2d2"/>
<rect x="1016.89" y="427.70" width="1.4" height="19.00" fill="#d2d2d2"/>
<rect x="1014.84" y="424.00" width="5.5" height="3.70" fill="#fafafa"/>
<rect x="1023.30" y="410.30" width="1.4" height="13.70" fill="#d05366"/>
<rect x="1023.30" y="438.60" width="1.4" height="8.10" fill="#d05366"/>
<rect x="1021.25" y="424.00" width="5.5" height="14.60" fill="#f2576a"/>
<rect x="1029.72" y="430.70" width="1.4" height="6.50" fill="#d2d2d2"/>
<rect x="1029.72" y="439.40" width="1.4" height="13.20" fill="#d2d2d2"/>
<rect x="1027.67" y="437.20" width="5.5" height="2.20" fill="#fafafa"/>
<rect x="1036.14" y="429.60" width="1.4" height="4.20" fill="#d2d2d2"/>
<rect x="1036.14" y="438.00" width="1.4" height="1.00" fill="#d2d2d2"/>
<rect x="1034.09" y="433.80" width="5.5" height="4.20" fill="#fafafa"/>
<rect x="1042.55" y="426.30" width="1.4" height="7.10" fill="#d05366"/>
<rect x="1042.55" y="458.00" width="1.4" height="8.40" fill="#d05366"/>
<rect x="1040.50" y="433.40" width="5.5" height="24.60" fill="#f2576a"/>
<rect x="1048.97" y="422.60" width="1.4" height="7.40" fill="#d2d2d2"/>
<rect x="1048.97" y="458.30" width="1.4" height="1.70" fill="#d2d2d2"/>
<rect x="1046.92" y="430.00" width="5.5" height="28.30" fill="#fafafa"/>
<rect x="1055.39" y="398.60" width="1.4" height="0.90" fill="#d2d2d2"/>
<rect x="1055.39" y="430.80" width="1.4" height="5.20" fill="#d2d2d2"/>
<rect x="1053.34" y="399.50" width="5.5" height="31.30" fill="#fafafa"/>
<rect x="1061.81" y="408.60" width="1.4" height="11.50" fill="#d05366"/>
<rect x="1059.76" y="399.50" width="5.5" height="9.10" fill="#f2576a"/>
<rect x="1068.22" y="403.80" width="1.4" height="3.40" fill="#d05366"/>
<rect x="1068.22" y="423.50" width="1.4" height="20.20" fill="#d05366"/>
<rect x="1066.17" y="407.20" width="5.5" height="16.30" fill="#f2576a"/>
<rect x="1074.64" y="414.40" width="1.4" height="8.60" fill="#d05366"/>
<rect x="1074.64" y="474.10" width="1.4" height="10.60" fill="#d05366"/>
<rect x="1072.59" y="423.00" width="5.5" height="51.10" fill="#f2576a"/>
<rect x="1081.06" y="469.50" width="1.4" height="4.60" fill="#d05366"/>
<rect x="1081.06" y="516.60" width="1.4" height="66.40" fill="#d05366"/>
<rect x="1079.01" y="474.10" width="5.5" height="42.50" fill="#f2576a"/>
<rect x="1087.47" y="513.10" width="1.4" height="2.90" fill="#d05366"/>
<rect x="1087.47" y="591.70" width="1.4" height="10.40" fill="#d05366"/>
<rect x="1085.42" y="516.00" width="5.5" height="75.70" fill="#f2576a"/>
<rect x="1093.89" y="556.90" width="1.4" height="20.10" fill="#d2d2d2"/>
<rect x="1093.89" y="591.20" width="1.4" height="34.40" fill="#d2d2d2"/>
<rect x="1091.84" y="577.00" width="5.5" height="14.20" fill="#fafafa"/>
<rect x="1100.31" y="540.00" width="1.4" height="37.00" fill="#d05366"/>
<rect x="1100.31" y="591.70" width="1.4" height="35.00" fill="#d05366"/>
<rect x="1098.26" y="577.00" width="5.5" height="14.70" fill="#f2576a"/>
<rect x="1106.72" y="569.60" width="1.4" height="21.60" fill="#d05366"/>
<rect x="1106.72" y="597.70" width="1.4" height="37.30" fill="#d05366"/>
<rect x="1104.67" y="591.20" width="5.5" height="6.50" fill="#f2576a"/>
<rect x="1113.14" y="573.10" width="1.4" height="24.10" fill="#d05366"/>
<rect x="1113.14" y="613.00" width="1.4" height="8.30" fill="#d05366"/>
<rect x="1111.09" y="597.20" width="5.5" height="15.80" fill="#f2576a"/>
<rect x="1119.56" y="577.00" width="1.4" height="26.20" fill="#d2d2d2"/>
<rect x="1119.56" y="613.40" width="1.4" height="11.20" fill="#d2d2d2"/>
<rect x="1117.51" y="603.20" width="5.5" height="10.20" fill="#fafafa"/>
<rect x="1125.97" y="552.50" width="1.4" height="9.10" fill="#d2d2d2"/>
<rect x="1125.97" y="603.50" width="1.4" height="4.10" fill="#d2d2d2"/>
<rect x="1123.92" y="561.60" width="5.5" height="41.90" fill="#fafafa"/>
<rect x="1132.39" y="555.80" width="1.4" height="5.80" fill="#d05366"/>
<rect x="1132.39" y="580.80" width="1.4" height="9.80" fill="#d05366"/>
<rect x="1130.34" y="561.60" width="5.5" height="19.20" fill="#f2576a"/>
<rect x="1138.81" y="554.20" width="1.4" height="12.10" fill="#d2d2d2"/>
<rect x="1138.81" y="580.80" width="1.4" height="21.30" fill="#d2d2d2"/>
<rect x="1136.76" y="566.30" width="5.5" height="14.50" fill="#fafafa"/>
<rect x="1145.23" y="561.30" width="1.4" height="5.80" fill="#d05366"/>
<rect x="1145.23" y="597.00" width="1.4" height="18.80" fill="#d05366"/>
<rect x="1143.18" y="567.10" width="5.5" height="29.90" fill="#f2576a"/>
<rect x="1151.64" y="590.60" width="1.4" height="3.70" fill="#d2d2d2"/>
<rect x="1151.64" y="596.90" width="1.4" height="4.90" fill="#d2d2d2"/>
<rect x="1149.59" y="594.30" width="5.5" height="2.60" fill="#fafafa"/>
<line x1="41.95" y1="60.8" x2="1208.8" y2="405.3" stroke="#4669f0" stroke-width="2.4" stroke-linecap="round"/>
<line x1="176.1" y1="445.8" x2="1208.7" y2="650.1" stroke="#4669f0" stroke-width="2.4" stroke-linecap="round"/>
</g>
<text x="9.8" y="22.7" font-size="16.6" fill="#e4e4e4" textLength="257.8" lengthAdjust="spacingAndGlyphs">Ethereum / Bitcoin · 1D · Binance</text>
<text x="278.1" y="21.2" font-size="14.2" fill="#e8e8e8" textLength="9.5" lengthAdjust="spacingAndGlyphs">O</text>
<text x="290" y="21.2" font-size="14.2" fill="#e35d6e" textLength="56.3" lengthAdjust="spacingAndGlyphs">0.03844</text>
<text x="355" y="21.2" font-size="14.2" fill="#e8e8e8" textLength="9.5" lengthAdjust="spacingAndGlyphs">H</text>
<text x="366.25" y="21.2" font-size="14.2" fill="#e35d6e" textLength="56.7" lengthAdjust="spacingAndGlyphs">0.03919</text>
<text x="431.25" y="21.2" font-size="14.2" fill="#e8e8e8" textLength="6.3" lengthAdjust="spacingAndGlyphs">L</text>
<text x="440" y="21.2" font-size="14.2" fill="#e35d6e" textLength="57" lengthAdjust="spacingAndGlyphs">0.03739</text>
<text x="504.5" y="21.2" font-size="14.2" fill="#e8e8e8" textLength="8.5" lengthAdjust="spacingAndGlyphs">C</text>
<text x="516.25" y="21.2" font-size="14.2" fill="#e35d6e" textLength="56.3" lengthAdjust="spacingAndGlyphs">0.03784</text>
<text x="1219.5" y="79.8" font-size="13.3" fill="#e2e2e2" textLength="52.9" lengthAdjust="spacingAndGlyphs">0.04300</text>
<text x="1219.5" y="145.05" font-size="13.3" fill="#e2e2e2" textLength="52.9" lengthAdjust="spacingAndGlyphs">0.04100</text>
<text x="1219.5" y="178.88" font-size="13.3" fill="#e2e2e2" textLength="52.9" lengthAdjust="spacingAndGlyphs">0.04000</text>
<text x="1219.5" y="213.56" font-size="13.3" fill="#e2e2e2" textLength="52.9" lengthAdjust="spacingAndGlyphs">0.03900</text>
<text x="1219.5" y="249.15" font-size="13.3" fill="#e2e2e2" textLength="52.9" lengthAdjust="spacingAndGlyphs">0.03800</text>
<text x="1219.5" y="285.69" font-size="13.3" fill="#e2e2e2" textLength="52.9" lengthAdjust="spacingAndGlyphs">0.03700</text>
<text x="1219.5" y="323.22" font-size="13.3" fill="#e2e2e2" textLength="52.9" lengthAdjust="spacingAndGlyphs">0.03600</text>
<text x="1219.5" y="361.82" font-size="13.3" fill="#e2e2e2" textLength="52.9" lengthAdjust="spacingAndGlyphs">0.03500</text>
<text x="1219.5" y="401.53" font-size="13.3" fill="#e2e2e2" textLength="52.9" lengthAdjust="spacingAndGlyphs">0.03400</text>
<text x="1219.5" y="442.43" font-size="13.3" fill="#e2e2e2" textLength="52.9" lengthAdjust="spacingAndGlyphs">0.03300</text>
<text x="1219.5" y="484.59" font-size="13.3" fill="#e2e2e2" textLength="52.9" lengthAdjust="spacingAndGlyphs">0.03200</text>
<text x="1219.5" y="528.08" font-size="13.3" fill="#e2e2e2" textLength="52.9" lengthAdjust="spacingAndGlyphs">0.03100</text>
<text x="1219.5" y="563.9" font-size="13.3" fill="#e2e2e2" textLength="52.9" lengthAdjust="spacingAndGlyphs">0.03020</text>
<text x="1219.5" y="638.48" font-size="13.3" fill="#e2e2e2" textLength="52.9" lengthAdjust="spacingAndGlyphs">0.02860</text>
<text x="1219.5" y="672.43" font-size="13.3" fill="#e2e2e2" textLength="52.9" lengthAdjust="spacingAndGlyphs">0.02790</text>
<text x="1219.5" y="707.24" font-size="13.3" fill="#e2e2e2" textLength="52.9" lengthAdjust="spacingAndGlyphs">0.02720</text>
<text x="106.4" y="731" font-size="13.6" fill="#e2e2e2" text-anchor="middle">Sep</text>
<text x="298.8" y="731" font-size="13.6" fill="#e2e2e2" text-anchor="middle">Oct</text>
<text x="497.8" y="731" font-size="13.6" fill="#e2e2e2" text-anchor="middle">Nov</text>
<text x="690.3" y="731" font-size="13.6" fill="#e2e2e2" text-anchor="middle">Dec</text>
<text x="1088.2" y="731" font-size="13.6" fill="#e2e2e2" text-anchor="middle">Feb</text>
<text x="871.9" y="730.8" font-size="13.2" fill="#f0f0f0" textLength="34.3" lengthAdjust="spacingAndGlyphs" font-weight="bold">2026</text>
<text x="565" y="661.6" font-size="13.2" fill="#ececec" textLength="122.5" lengthAdjust="spacingAndGlyphs" font-weight="bold">t.me/BinanceKillers</text>
<!-- date label -->
<rect x="-4" y="710.2" width="110.9" height="25.5" rx="2" fill="#3f4251"/>
<text x="9" y="730.5" font-size="13.2" fill="#ececec" textLength="87.5" lengthAdjust="spacingAndGlyphs">Fri 15 Aug '25</text>
<!-- TV logo -->
<g transform="translate(12.3,674.3) scale(0.933)" fill="#e8e8e8">
<path d="M14 22H7V11H0V4h14v18z"/><path d="M28 22h-8l7.5-18h8L28 22z"/><circle cx="20" cy="8" r="4"/>
</g>
<!-- BTC button -->
<rect x="1214.25" y="2.7" width="64.3" height="27.7" rx="4" fill="#0e0e0e" stroke="#4a4a4a" stroke-width="1"/>
<text x="1218.75" y="20.9" font-size="12.2" fill="#e0e0e0" textLength="24.4" lengthAdjust="spacingAndGlyphs">BTC</text>
<path d="M1268.6 16.4 L1271.55 19 L1274.5 16.4" fill="none" stroke="#e8e8e8" stroke-width="1.25" stroke-linecap="round" stroke-linejoin="round"/>
<!-- current price -->
<rect x="1185.9" y="582.5" width="23.2" height="22.7" rx="2" fill="#3f4251"/>
<rect x="1210.4" y="582.5" width="68" height="22.7" rx="2" fill="#3f4251"/>
<circle cx="1197.5" cy="594" r="8.1" fill="none" stroke="#f2f2f2" stroke-width="1.3"/>
<path d="M1192.8 594 H1202.2 M1197.5 589.3 V598.7" stroke="#f2f2f2" stroke-width="1.3"/>
<text x="1219.7" y="599.2" font-size="13.6" fill="#f0f0f0" textLength="52.5" lengthAdjust="spacingAndGlyphs">0.02942</text>
<!-- lightning icon -->
<circle cx="1152.4" cy="696.1" r="11.4" fill="none" stroke="#b167d3" stroke-width="1.6"/>
<path d="M1155.5 690.3 L1149.6 696.9 L1155.3 695.3 L1149.3 701.9" fill="none" stroke="#a94ccc" stroke-width="1.9" stroke-linejoin="round" stroke-linecap="round"/>
<circle cx="1159.7" cy="688.2" r="3.0" fill="#f23a52" stroke="#000" stroke-width="1.2"/>
<!-- settings -->
<path d="M1239.2 725.8 L1243.2 719.1 L1251.2 719.1 L1255.2 725.8 L1251.2 732.5 L1243.2 732.5 Z" fill="none" stroke="#dedede" stroke-width="1.3" stroke-linejoin="round"/>
<circle cx="1247.2" cy="725.8" r="2.4" fill="none" stroke="#dedede" stroke-width="1.1"/>
</svg>
</body></html>
